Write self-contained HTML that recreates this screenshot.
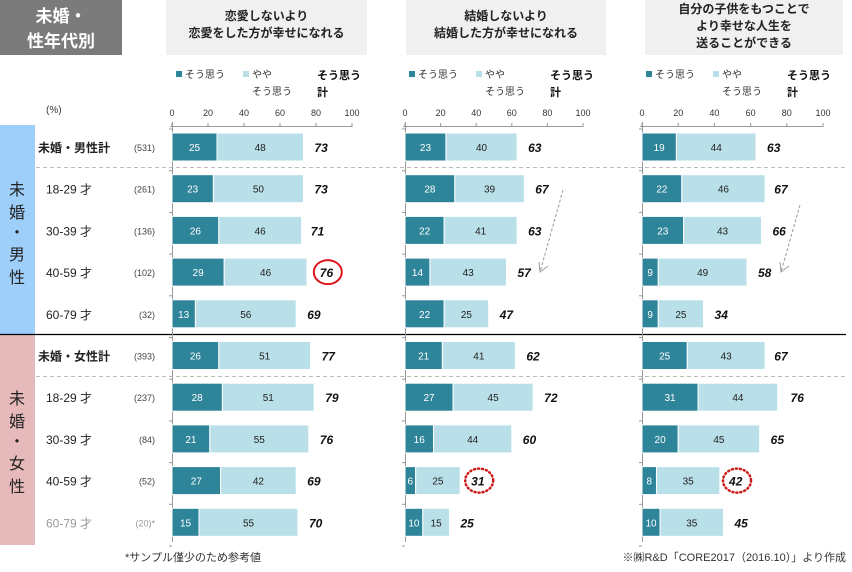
<!DOCTYPE html>
<html><head><meta charset="utf-8"><style>
body{margin:0;background:#fff;}
svg{display:block;font-family:"Liberation Sans","Noto Sans CJK JP",sans-serif;}
</style></head><body>
<svg id="c" width="852" height="572" viewBox="0 0 852 572">
<rect x="0" y="0" width="122" height="55" fill="#7b7b7b"/>
<text x="61" y="22" fill="#fff" font-size="17" font-weight="bold" text-anchor="middle">未婚・</text>
<text x="61" y="47" fill="#fff" font-size="17" font-weight="bold" text-anchor="middle">性年代別</text>
<text x="46" y="113" font-size="10" fill="#333">(%)</text>
<rect x="0" y="125" width="35" height="209" fill="#9dcffa"/>
<rect x="0" y="335" width="35" height="210" fill="#e6b9ba"/>
<g font-size="16" fill="#222" text-anchor="middle">
<text x="17" y="195">未</text><text x="17" y="218">婚</text><text x="17" y="238">・</text><text x="17" y="260">男</text><text x="17" y="283">性</text></g>
<g font-size="16" fill="#222" text-anchor="middle">
<text x="17" y="404">未</text><text x="17" y="427">婚</text><text x="17" y="447">・</text><text x="17" y="469">女</text><text x="17" y="492">性</text></g>
<line x1="0" y1="334.5" x2="846" y2="334.5" stroke="#000" stroke-width="1.2"/>
<line x1="36" y1="167.5" x2="846" y2="167.5" stroke="#bbb" stroke-dasharray="4,3"/>
<line x1="36" y1="376.5" x2="846" y2="376.5" stroke="#bbb" stroke-dasharray="4,3"/>
<text x="125" y="561" font-size="11" fill="#333">*サンプル僅少のため参考値</text>
<text x="846" y="561" font-size="11" fill="#333" text-anchor="end">※㈱R&amp;D「CORE2017（2016.10）」より作成</text>
</svg>
<script>
const rowLabels=["未婚・男性計","18-29 才","30-39 才","40-59 才","60-79 才","未婚・女性計","18-29 才","30-39 才","40-59 才","60-79 才"];
const rowN=["(531)","(261)","(136)","(102)","(32)","(393)","(237)","(84)","(52)","(20)*"];
const titles=[["恋愛しないより","恋愛をした方が幸せになれる"],["結婚しないより","結婚した方が幸せになれる"],["自分の子供をもつことで","より幸せな人生を","送ることができる"]];
const strong1=[25,23,26,29,13,26,28,21,27,15];
const some1=[48,50,46,46,56,51,51,55,42,55];
const total1=[73,73,71,76,69,77,79,76,69,70];
const strong2=[23,28,22,14,22,21,27,16,6,10];
const some2=[40,39,41,43,25,41,45,44,25,15];
const total2=[63,67,63,57,47,62,72,60,31,25];
const strong3=[19,22,23,9,9,25,31,20,8,10];
const some3=[44,46,43,49,25,43,44,45,35,35];
const total3=[63,67,66,58,34,67,76,65,42,45];
const ticks=[0,20,40,60,80,100];
const NS="http://www.w3.org/2000/svg";
const svg=document.getElementById('c');
function mk(tag,attrs,parent,text){const e=document.createElementNS(NS,tag);for(const k in attrs)e.setAttribute(k,attrs[k]);if(text!==undefined)e.textContent=text;(parent||svg).appendChild(e);return e;}
const panels=[{x0:172,x1:352,hx:166,hw:201,s:strong1,m:some1,t:total1},{x0:405,x1:583,hx:406,hw:200,s:strong2,m:some2,t:total2},{x0:642,x1:823,hx:645,hw:198,s:strong3,m:some3,t:total3}];
const rowTop=i=>133+i*41.7;
const barH=28;
// row labels
rowLabels.forEach((l,i)=>{
  const y=rowTop(i)+barH/2+5;
  const tot=(i===0||i===5);
  const col=i===9?'#999':'#222';
  const t=mk('text',{x:tot?38:46,y:y,'font-size':tot?12:12,'font-weight':tot?'bold':'normal',fill:col},svg,l);
  
  
  const n=mk('text',{x:155,y:y-1,'font-size':9,fill:i===9?'#999':'#444','text-anchor':'end'},svg,rowN[i]);
  
  
});
panels.forEach((p,pi)=>{
  const sx=v=>p.x0+(p.x1-p.x0)*v/100;
  const g=mk('g',{});
  
  
  const hb=mk('rect',{x:p.hx,y:0,width:p.hw,height:55,fill:'#f0f0f0'},g);
  
  
  const lines=titles[pi];const ly0=lines.length===2?20:13;
  lines.forEach((ln,k)=>{const t=mk('text',{x:p.hx+p.hw/2,y:ly0+k*17,'font-size':12,'font-weight':'bold','text-anchor':'middle',fill:'#222'},g,ln);
    
    });
  // legend
  const lx=p.x0+4;
  const l1=mk('rect',{x:lx,y:71,width:6,height:6,fill:'#2e8499'},g);
  
  
  const lt1=mk('text',{x:lx+9,y:78,'font-size':10,fill:'#333'},g,'そう思う');
  
  
  const l2=mk('rect',{x:lx+67,y:71,width:6,height:6,fill:'#b9dfe8'},g);
  
  
  const lt2=mk('text',{x:lx+76,y:78,'font-size':10,fill:'#333'},g,'やや');
  
  
  mk('text',{x:lx+76,y:95,'font-size':10,fill:'#333'},g,'そう思う');
  const lt3=mk('text',{x:lx+141,y:79,'font-size':11,'font-weight':'bold',fill:'#111'},g,'そう思う');
  
  
  mk('text',{x:lx+141,y:96,'font-size':11,'font-weight':'bold',fill:'#111'},g,'計');
  // axis
  const ax=mk('line',{x1:p.x0-2,y1:126.5,x2:p.x1,y2:126.5,stroke:'#999'},g);
  
  
  const ay=mk('line',{x1:p.x0+0.5,y1:122,x2:p.x0+0.5,y2:542,stroke:'#999'},g);
  
  
  ticks.forEach(t=>{
    mk('line',{x1:sx(t),y1:123,x2:sx(t),y2:127,stroke:'#999'},g);
    const tl=mk('text',{x:sx(t),y:116,'font-size':9,'text-anchor':'middle',fill:'#333'},g,t);
    
    
  });
  for(let i=0;i<=10;i++){mk('line',{x1:p.x0-3,y1:rowTop(i)-4,x2:p.x0,y2:rowTop(i)-4,stroke:'#999'},g);}
  p.s.forEach((v,i)=>{
    const y=rowTop(i);
    const b1=mk('rect',{x:sx(0),y:y,width:sx(v)-sx(0),height:barH,fill:'#2e8499',stroke:'#fff','stroke-width':1},g);
    
    
    const b2=mk('rect',{x:sx(v),y:y,width:sx(v+p.m[i])-sx(v),height:barH,fill:'#b9dfe8',stroke:'#fff','stroke-width':1},g);
    
    
    const t1=mk('text',{x:(sx(0)+sx(v))/2,y:y+18,'font-size':10,fill:'#fff','text-anchor':'middle'},g,v);
    
    
    const t2=mk('text',{x:(sx(v)+sx(v+p.m[i]))/2,y:y+18,'font-size':10,fill:'#222','text-anchor':'middle'},g,p.m[i]);
    
    
    const tx=sx(p.t[i])+11;
    const t3=mk('text',{x:tx,y:y+19,'font-size':12,'font-weight':'bold','font-style':'italic',fill:'#111'},g,p.t[i]);
    
    
    const hl=(pi===0&&i===3)||(pi>0&&i===8);
    if(hl){
      const c=mk('ellipse',{cx:tx+8,cy:y+14,rx:14,ry:12,fill:'none',stroke:pi===0?'#e0141e':'#cc1a1a','stroke-width':pi===0?2:2.5,'stroke-dasharray':pi===0?'none':'1,3','stroke-linecap':'round'},g);
      
      
    }
  });
  if(pi>0){
    const x1=pi===1?563:800,y1=pi===1?190:205,x2=pi===1?540:781,y2=272;
    const a=mk('line',{x1:x1,y1:y1,x2:x2,y2:y2,stroke:'#999','stroke-dasharray':'3,2'},g);
    
    
    mk('polyline',{points:`${x2-1},${y2-10} ${x2},${y2} ${x2+8},${y2-6}`,fill:'none',stroke:'#999'},g);
  }
});
</script>
</body></html>
